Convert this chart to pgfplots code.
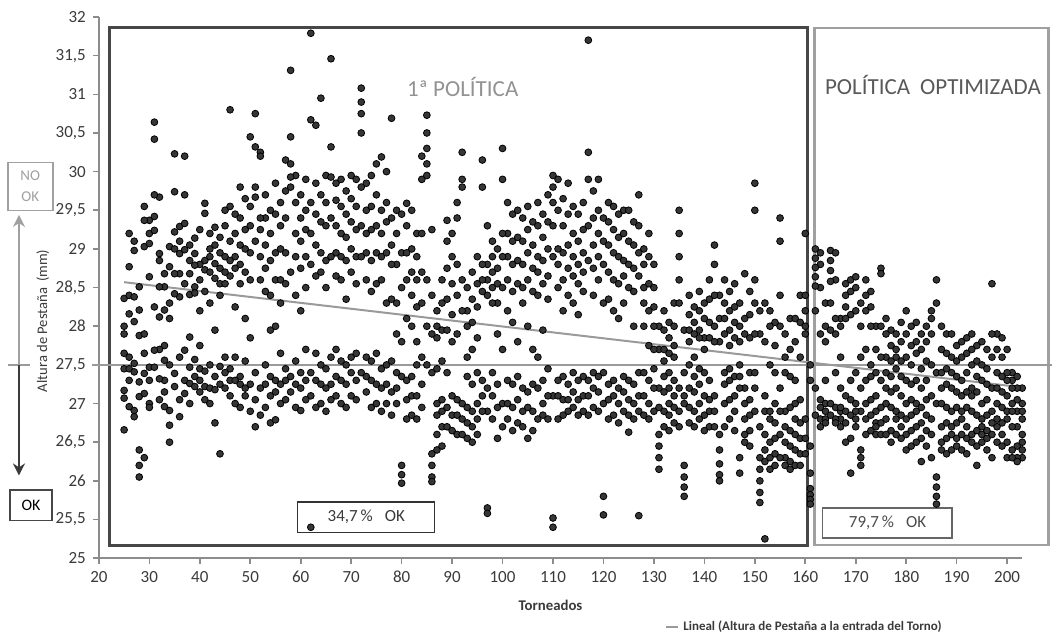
\documentclass[border=0pt]{standalone}
\usepackage{pgfplots}
\pgfplotsset{compat=1.18}
\usepackage{pgfplotstable}
\usepackage{fontspec}
\setmainfont{Carlito}
\usetikzlibrary{arrows.meta}

\definecolor{dotc}{HTML}{363636}
\definecolor{axc}{HTML}{8C8C8C}
\definecolor{trendc}{HTML}{9A9A9A}
\definecolor{boxa}{HTML}{474747}
\definecolor{boxb}{HTML}{A0A0A0}
\definecolor{txtc}{HTML}{3A3A3A}

% altura de pestana por torneado (8 lecturas por columna)
\pgfplotstableread{
x y1 y2 y3 y4 y5 y6 y7 y8
25 28.36 28.00 27.90 27.65 27.45 27.17 27.07 26.66
26 29.20 28.77 28.40 28.16 27.60 27.45 27.30 26.96
27 29.10 28.98 28.38 28.06 27.52 27.41 26.91 26.83
28 28.51 28.21 27.88 27.28 27.09 26.40 26.20 26.05
29 29.55 29.37 29.03 27.90 27.65 27.39 27.13 26.30
30 29.37 29.20 29.07 28.64 27.47 27.30 27.00 26.95
31 30.64 30.42 29.70 29.42 29.24 28.25 27.69 27.47
32 29.67 28.94 28.85 28.51 28.12 27.70 27.32 27.05
33 28.68 28.51 28.21 27.75 27.56 27.30 26.96 27.15
34 29.03 28.77 28.30 28.10 27.50 26.91 26.72 26.50
35 30.23 29.74 29.22 29.00 28.68 28.42 27.39 27.22
36 29.29 29.10 28.94 28.68 28.38 27.60 27.05 26.83
37 30.20 29.70 29.33 28.99 28.55 27.69 27.30 27.13
38 29.05 28.85 28.68 28.41 27.86 27.47 27.26 27.00
39 29.14 28.94 28.79 28.51 28.43 27.57 27.35 27.22
40 29.25 28.80 28.60 28.20 27.75 27.45 27.30 27.15
41 29.59 29.46 28.85 28.73 28.45 27.42 27.22 27.05
42 29.20 29.00 28.90 28.70 28.30 27.50 27.20 27.00
43 29.28 29.05 28.81 28.62 27.95 27.35 27.18 26.75
44 29.15 28.95 28.75 28.55 28.40 27.48 27.25 26.35
45 29.50 29.30 28.90 28.70 28.55 27.60 27.40 27.20
46 30.80 29.55 29.10 28.85 28.65 27.45 27.30 27.10
47 29.45 29.20 28.90 28.75 28.25 27.60 27.30 27.00
48 29.80 29.40 29.05 28.80 28.55 27.35 27.25 26.95
49 29.65 29.25 29.00 28.70 28.10 27.55 27.20 27.10
50 30.45 29.55 29.30 28.95 28.60 27.85 27.25 26.90
51 30.75 30.32 29.80 29.67 29.10 27.40 27.05 26.70
52 30.25 30.20 29.40 29.25 28.90 28.60 27.20 26.85
53 29.70 29.40 29.05 28.75 28.45 27.50 27.25 26.95
54 29.50 29.20 28.85 28.40 27.95 27.35 27.10 26.75
55 29.85 29.45 28.95 28.60 28.00 27.30 27.15 26.79
56 29.60 29.30 29.00 28.60 28.30 27.65 27.25 27.00
57 30.15 29.75 29.40 28.95 28.55 27.45 27.30 27.05
58 31.31 30.45 30.10 29.93 29.80 28.70 27.35 27.15
59 29.95 29.60 29.20 28.90 28.40 27.55 27.25 26.95
60 29.70 29.40 29.10 28.75 28.20 27.40 27.20 26.91
61 29.90 29.50 29.25 28.90 28.50 27.70 27.30 27.05
62 31.79 30.67 29.60 29.20 28.80 27.40 27.10 25.40
63 30.60 29.85 29.45 29.05 28.65 27.65 27.30 26.95
64 30.95 29.70 29.35 28.95 28.70 27.50 27.25 27.00
65 29.95 29.60 29.30 28.85 28.50 27.45 27.20 26.90
66 31.46 30.32 29.93 29.40 28.90 27.60 27.25 27.05
67 29.85 29.63 29.30 28.95 28.65 27.70 27.35 27.10
68 29.90 29.55 29.20 28.90 28.60 27.55 27.30 27.00
69 29.75 29.45 29.15 28.85 28.35 27.50 27.25 26.95
70 29.95 29.65 29.35 29.00 28.70 27.60 27.40 27.10
71 29.90 29.55 29.25 28.90 28.55 27.65 27.30 27.05
72 31.08 30.90 30.75 30.50 29.80 29.30 28.90 27.40
73 29.85 29.50 29.20 28.95 28.60 27.60 27.35 27.15
74 29.95 29.55 29.25 28.85 28.45 27.55 27.30 26.95
75 30.10 29.70 29.30 28.95 28.55 27.65 27.25 27.00
76 30.19 29.50 29.20 28.90 28.60 27.45 27.20 26.90
77 30.00 29.60 29.35 28.95 28.30 27.50 27.25 27.00
78 30.69 29.40 29.05 28.80 28.35 27.55 27.15 26.85
79 29.50 29.20 28.80 28.30 27.90 27.40 27.20 27.00
80 29.45 28.95 28.50 27.80 27.35 26.20 26.08 25.97
81 29.59 29.30 28.95 28.60 28.10 27.30 27.05 26.80
82 29.50 29.00 28.70 28.40 28.00 27.35 27.10 26.85
83 29.20 28.90 28.60 28.25 27.80 27.50 27.10 26.80
84 30.20 29.90 29.20 28.70 28.30 27.60 27.25 26.95
85 30.73 30.50 30.30 30.10 29.95 28.60 28.00 27.50
86 29.25 28.40 27.90 27.40 26.35 26.20 26.05 25.99
87 28.20 28.00 27.85 27.45 27.00 26.85 26.60 26.40
88 28.60 28.30 27.95 27.55 27.05 26.90 26.70 26.45
89 29.37 29.10 28.75 28.35 27.95 27.40 26.95 26.70
90 29.20 28.90 28.55 28.15 27.80 27.10 26.85 26.65
91 29.60 29.40 28.80 28.40 27.90 27.05 26.85 26.60
92 30.25 29.90 29.80 28.60 28.20 27.00 26.80 26.60
93 28.50 28.20 28.00 27.60 27.35 26.95 26.75 26.55
94 28.70 28.35 28.05 27.70 27.25 26.90 26.70 26.50
95 28.90 28.55 28.25 27.85 27.40 27.00 26.80 26.60
96 30.15 29.80 28.80 28.60 28.45 27.30 27.10 26.90
97 29.30 28.80 28.60 28.40 27.20 26.90 25.65 25.58
98 29.10 28.90 28.70 28.50 28.30 27.40 27.10 26.80
99 29.00 28.75 28.55 28.30 27.90 27.25 26.95 26.55
100 30.30 29.90 29.20 28.90 28.50 27.70 27.00 26.70
101 29.60 29.20 28.90 28.60 28.20 27.30 27.00 26.80
102 29.45 29.10 28.80 28.45 28.05 27.25 26.95 26.65
103 29.50 29.15 28.85 28.55 27.80 27.35 27.05 26.75
104 29.40 29.10 28.80 28.50 28.30 27.20 26.90 26.70
105 29.55 29.25 28.95 28.60 28.00 27.15 26.95 26.55
106 29.35 29.05 28.75 28.45 27.70 27.25 26.90 26.65
107 29.60 29.30 28.90 28.70 28.40 27.60 27.20 26.80
108 29.45 29.15 28.85 28.55 27.95 27.30 27.00 26.85
109 29.70 29.35 29.00 28.65 28.35 27.45 27.10 26.80
110 29.95 29.80 29.60 29.30 28.90 27.10 25.52 25.40
111 29.90 29.50 29.00 28.80 28.50 27.30 27.10 26.80
112 29.65 29.30 28.95 28.60 28.20 27.35 27.05 26.85
113 29.85 29.45 29.05 28.75 28.40 27.25 27.05 26.90
114 29.55 29.20 28.90 28.65 28.30 27.40 27.15 26.95
115 29.45 29.10 28.80 28.55 28.15 27.30 27.05 26.85
116 29.60 29.25 28.95 28.70 28.45 27.35 27.10 26.90
117 31.70 30.25 29.90 29.30 28.85 27.30 27.10 26.85
118 29.75 29.40 29.05 28.75 28.40 27.40 27.20 26.95
119 29.90 29.50 29.20 28.90 28.60 27.35 27.15 26.90
120 29.40 29.10 28.80 28.30 27.40 27.00 25.80 25.56
121 29.60 29.35 29.05 28.70 28.35 27.25 27.05 26.80
122 29.55 29.25 28.95 28.60 28.20 27.30 27.10 26.85
123 29.45 29.15 28.90 28.55 28.10 27.20 27.00 26.75
124 29.50 29.20 28.85 28.65 28.30 27.35 27.15 26.90
125 29.50 29.10 28.80 28.50 27.30 27.05 26.85 26.63
126 29.35 29.05 28.75 28.45 28.00 27.25 27.00 26.80
127 29.70 29.30 28.95 28.65 27.40 27.10 26.90 25.55
128 29.00 28.80 28.50 28.30 28.00 27.40 27.10 26.85
129 29.20 28.90 28.55 28.20 27.75 27.30 27.00 26.80
130 28.80 28.50 28.25 28.00 27.70 27.45 27.20 26.90
131 28.00 27.70 27.20 26.60 26.45 26.30 26.15 26.95
132 28.20 27.95 27.70 27.55 27.35 27.15 26.90 26.70
133 28.05 27.85 27.65 27.40 27.20 27.00 26.85 26.65
134 28.30 28.00 27.75 27.60 27.30 27.10 26.95 26.75
135 29.50 29.20 28.90 28.60 28.30 27.20 26.90 26.70
136 27.95 27.40 27.10 27.00 26.20 26.05 25.92 25.80
137 28.40 28.15 27.95 27.80 27.50 27.20 26.95 26.75
138 28.25 28.05 27.90 27.60 27.35 27.15 26.90 26.70
139 28.45 28.20 27.95 27.85 27.45 27.25 27.00 26.80
140 28.30 28.10 27.85 27.70 27.40 27.10 26.85 26.65
141 28.60 28.35 28.05 27.85 27.30 27.05 26.90 26.70
142 29.05 28.80 28.40 28.00 27.80 27.10 26.90 26.70
143 28.40 28.10 27.80 26.60 26.40 26.22 26.08 26.00
144 28.60 28.30 28.10 27.90 27.40 27.25 27.00 26.70
145 28.45 28.20 27.95 27.75 27.45 27.30 27.05 26.80
146 28.55 28.25 28.05 27.85 27.35 27.10 26.90 26.65
147 28.30 28.00 27.80 27.50 27.35 27.20 26.30 26.10
148 28.68 28.10 27.90 27.20 27.00 26.80 26.60 26.50
149 28.45 28.15 27.85 27.40 27.05 26.85 26.65 26.45
150 29.85 29.50 28.60 28.30 27.90 27.40 27.20 26.90
151 28.20 27.90 26.70 26.30 26.15 26.00 25.85 25.72
152 28.30 27.80 27.10 26.90 26.60 26.40 26.25 25.25
153 28.20 28.00 27.50 26.90 26.80 26.50 26.30 26.15
154 28.05 27.75 27.40 27.00 26.75 26.55 26.35 26.20
155 29.40 29.10 28.40 28.00 27.20 26.90 26.60 26.30
156 27.90 27.60 27.40 26.90 26.70 26.50 26.30 26.20
157 28.10 27.70 27.35 26.95 26.65 26.45 26.25 26.15
158 28.10 27.80 27.30 27.00 26.80 26.60 26.40 26.20
159 28.40 28.05 27.60 27.05 26.75 26.55 26.35 26.20
160 29.20 28.40 28.20 28.00 27.90 26.80 26.55 26.35
161 27.50 27.30 26.10 25.90 25.82 25.76 25.70 26.45
162 29.00 28.88 28.76 28.64 28.52 28.20 27.20 26.85
163 28.95 28.80 28.50 27.90 27.05 26.95 26.80 26.70
164 28.30 28.00 27.80 27.30 27.00 26.90 26.80 26.75
165 28.98 28.85 28.72 28.58 28.30 27.95 27.00 26.85
166 28.95 28.60 28.10 27.90 27.40 26.95 26.80 26.75
167 28.10 28.00 27.60 27.20 26.90 26.80 26.70 26.95
168 28.55 28.40 28.25 28.10 27.10 26.90 26.75 26.50
169 28.60 28.45 28.15 27.30 27.05 26.85 26.55 26.10
170 28.64 28.50 28.20 27.40 27.00 26.90 26.70 26.80
171 28.30 28.00 27.60 27.20 26.90 26.40 26.30 26.20
172 28.60 28.40 28.20 27.70 27.30 27.00 26.80 26.60
173 28.45 28.25 28.00 27.50 27.35 27.05 26.85 26.65
174 28.00 27.70 27.40 27.10 26.90 26.75 26.60 26.70
175 28.75 28.68 28.00 27.60 27.30 26.95 26.75 26.60
176 28.10 27.90 27.60 27.40 27.20 27.00 26.80 26.60
177 27.95 27.75 27.55 27.35 27.15 26.95 26.65 26.50
178 27.90 27.70 27.60 27.45 27.20 26.90 26.80 26.60
179 28.05 27.80 27.55 27.35 27.10 26.85 26.70 26.55
180 28.20 27.90 27.60 27.30 27.00 26.80 26.60 26.40
181 28.00 27.75 27.50 27.25 27.05 26.85 26.65 26.45
182 28.05 27.80 27.65 27.30 27.00 26.90 26.70 26.50
183 27.90 27.70 27.45 27.20 26.95 26.75 26.55 26.25
184 28.00 27.80 27.55 27.30 27.05 26.85 26.65 26.45
185 28.20 28.10 27.90 27.50 27.10 26.80 26.60 26.30
186 28.60 28.30 27.40 27.00 26.05 25.92 25.80 25.70
187 28.00 27.70 27.40 27.20 27.00 26.70 26.50 26.40
188 27.90 27.65 27.45 27.25 26.95 26.75 26.55 26.35
189 27.90 27.60 27.40 27.20 26.90 26.70 26.60 26.40
190 27.75 27.55 27.35 27.15 26.95 26.75 26.55 26.45
191 27.80 27.60 27.30 27.10 26.90 26.80 26.60 26.40
192 27.85 27.65 27.40 27.15 26.95 26.70 26.55 26.35
193 27.90 27.70 27.50 27.20 27.10 26.90 26.60 26.50
194 27.75 27.55 27.35 27.15 26.85 26.65 26.45 26.20
195 27.80 27.50 27.30 27.00 26.80 26.60 26.50 26.70
196 27.70 27.45 27.25 27.05 26.85 26.65 26.55 26.40
197 28.55 27.90 27.60 27.20 26.90 26.60 26.30 26.75
198 27.90 27.70 27.40 27.20 27.00 26.80 26.70 26.50
199 27.85 27.60 27.35 27.15 26.95 26.75 26.60 26.45
200 27.70 27.40 27.30 27.10 26.90 26.80 26.50 26.30
201 27.40 27.30 27.20 27.00 26.90 26.70 26.40 26.30
202 27.35 27.20 27.05 26.90 26.70 26.45 26.30 26.25
203 27.20 27.00 26.80 26.50 26.30 26.40 26.60 26.90
}\torneo

\begin{document}
\begin{tikzpicture}
\begin{axis}[
  scale only axis,
  width=461.5pt, height=270.5pt,
  xmin=20, xmax=203,
  ymin=25, ymax=32,
  clip=false,
  axis lines=left,
  axis line style={-, draw=axc, line width=0.9pt},
  tick align=outside,
  major tick length=3pt,
  tick style={draw=axc, line width=0.8pt},
  xtick={20,30,...,200},
  ytick={25,25.5,26,26.5,27,27.5,28,28.5,29,29.5,30,30.5,31,31.5,32},
  /pgf/number format/assume math mode=true,
  /pgf/number format/.cd, fixed, use comma, precision=1, 1000 sep={},
  /pgfplots/.cd,
  tick label style={font=\fontsize{8.5}{9}\selectfont, text=txtc},
  legend style={draw=none, fill=none, at={(0.613,-0.1275)}, anchor=west,
    inner sep=0pt, font=\bfseries\fontsize{6.5}{7}\selectfont, text=txtc},
  legend image code/.code={\draw[#1] (0pt,0pt) -- (6pt,0pt);},
]
% marco invisible con las proporciones de la figura
\path (axis cs:0.4,23.99) rectangle (axis cs:208.9,32.22);

% recuadros de politica
\draw[boxa, line width=1.5pt] (axis cs:22.2,25.17) rectangle (axis cs:160.4,31.86);
\draw[boxb, line width=1.3pt] (axis cs:161.8,25.17) rectangle (axis cs:208.2,31.86);

% limite 27,5 mm
\addplot[forget plot, trendc, line width=1pt] coordinates {(1.98,27.5)(6.4,27.5)};
\addplot[forget plot, trendc, line width=1pt] coordinates {(18.6,27.5)(208.9,27.5)};

\pgfplotsinvokeforeach{1,...,8}{
  \addplot[forget plot, only marks, mark=*, mark size=1.7pt,
    mark options={fill=dotc, draw=none}] table[x=x, y=y#1] {\torneo};
}

% tendencia lineal
\addplot[trendc, line width=1pt] coordinates {(25,28.57)(203,27.21)};
\addlegendentry{Lineal (Altura de Pestaña a la entrada del Torno)}

\node[text=trendc!95!black, font=\fontsize{11.5}{13}\selectfont] at (axis cs:92.1,31.09) {1ª POLÍTICA};
\node[text=black!65, font=\fontsize{11.5}{13}\selectfont] at (axis cs:185.3,31.12) {POLÍTICA\hspace{5pt}OPTIMIZADA};

\draw[black!80, line width=0.8pt] (axis cs:59.4,25.33) rectangle (axis cs:86.5,25.73);
\node[text=txtc, font=\fontsize{8.5}{10}\selectfont] at (axis cs:73,25.53) {34,7\,\%\hspace{6pt}OK};
\draw[black!60, line width=0.8pt] (axis cs:163.4,25.26) rectangle (axis cs:189.1,25.65);
\node[text=black!70, font=\fontsize{8.5}{10}\selectfont] at (axis cs:176.3,25.46) {79,7\,\%\hspace{6pt}OK};

% anotaciones a la izquierda
\draw[boxb, line width=0.7pt] (axis cs:1.98,29.50) rectangle (axis cs:10.9,30.12);
\node[text=boxb, font=\fontsize{7.5}{10.5}\selectfont, align=center] at (axis cs:6.4,29.81) {NO\\OK};
\draw[boxb, line width=1.2pt, -{Stealth[length=6pt,width=6pt]}] (axis cs:4.16,27.5) -- (axis cs:4.16,29.44);
\draw[txtc, line width=1.2pt, -{Stealth[length=6pt,width=6pt]}] (axis cs:4.16,27.5) -- (axis cs:4.16,26.07);
\draw[boxa, line width=0.8pt] (axis cs:2.4,25.49) rectangle (axis cs:10.7,25.88);
\node[text=black, font=\fontsize{8}{9}\selectfont] at (axis cs:6.55,25.685) {OK};

\node[rotate=90, text=txtc, font=\fontsize{7.3}{8}\selectfont] at (axis cs:8.9,28.07) {Altura de Pestaña\hspace{3pt}(mm)};
\node[text=txtc, font=\bfseries\fontsize{7.4}{8}\selectfont] at (axis cs:109.5,24.39) {Torneados};
\end{axis}
\end{tikzpicture}
\end{document}
